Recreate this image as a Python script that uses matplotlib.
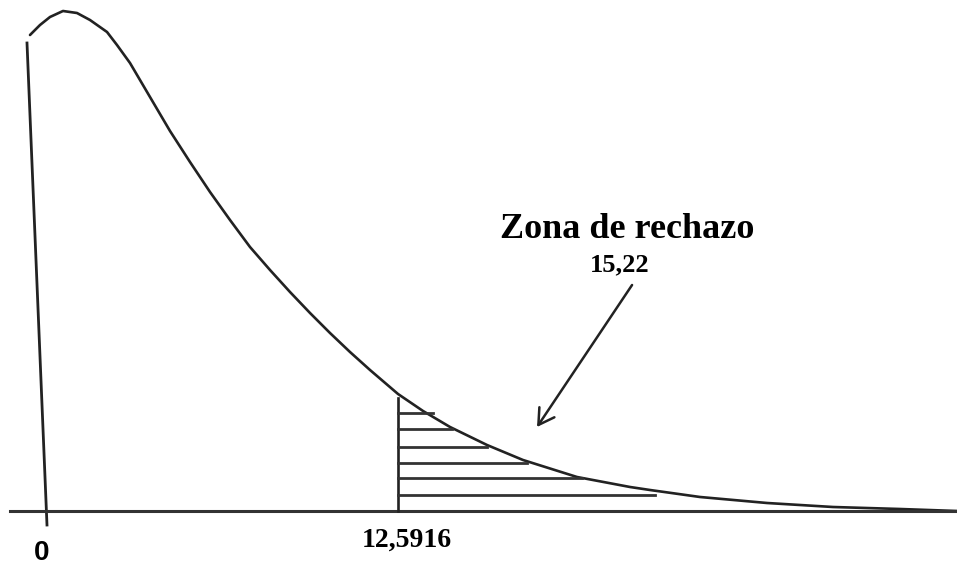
import numpy as np
import matplotlib.pyplot as plt
from matplotlib.patches import FancyArrowPatch

# chi-square sketch, values
crit = 12.5916
stat = 15.22

curve_x = [-0.535, -0.178, 0.178, 0.642, 1.141, 1.605, 2.212, 2.568, 3.032,
           3.745, 4.459, 5.172, 5.886, 6.599, 7.312, 8.026, 8.739, 9.453,
           10.166, 10.879, 11.593, 12.592, 13.484, 14.447, 15.766, 17.050,
           18.977, 20.868, 21.581, 23.364, 25.754, 28.109, 30.499, 32.532]
curve_y = [0.1428, 0.1458, 0.1482, 0.1500, 0.1494, 0.1473, 0.1437, 0.1398, 0.1344,
           0.1242, 0.1140, 0.1047, 0.0957, 0.0873, 0.0792, 0.0723, 0.0657, 0.0594,
           0.0534, 0.0477, 0.0423, 0.0351, 0.0300, 0.0252, 0.0198, 0.0153,
           0.0102, 0.0072, 0.0063, 0.0042, 0.0024, 0.0012, 0.0006, 0.0000]

# left edge stroke of the sketch
left_x = [-0.642, 0.071]
left_y = [0.1404, -0.0042]

# hatch lines of the rejection zone
hatch_y = [0.0294, 0.0246, 0.0192, 0.0144, 0.0099, 0.0048]
hatch_end = [13.840, 14.518, 15.766, 17.193, 19.154, 21.759]
crit_top = 0.0339

axis_x = [-1.248, 32.53]

fig = plt.figure(figsize=(9.57, 5.71), dpi=100)
ax = fig.add_axes([0, 0, 1, 1])
ax.set_xlim(-1.605, 32.53)
ax.set_ylim(-0.018, 0.1533)
ax.axis('off')

ink = '#222222'
ax.plot(curve_x, curve_y, color=ink, lw=1.9, solid_joinstyle='round', solid_capstyle='round')
ax.plot(left_x, left_y, color=ink, lw=2.0)
ax.plot(axis_x, [0, 0], color='#333333', lw=2.2)
ax.plot([crit, crit], [0, crit_top], color=ink, lw=1.9)
for yy, xe in zip(hatch_y, hatch_end):
    ax.plot([crit, xe], [yy, yy], color='#333333', lw=2.0)

arr = FancyArrowPatch((20.94, 0.0678), (17.55, 0.0252), arrowstyle='->,head_length=11,head_width=6.5',
                      color=ink, lw=1.8, shrinkA=0, shrinkB=0)
ax.add_patch(arr)

ax.text(20.76, 0.0845, 'Zona de rechazo', family='Liberation Serif', weight='bold',
        fontsize=26, ha='center', va='center')
ax.text(20.51, 0.0738, str(stat).replace('.', ','), family='Liberation Serif', weight='bold',
        fontsize=19, ha='center', va='center')
ax.text(12.91, -0.0087, str(crit).replace('.', ','), family='Liberation Serif', weight='bold',
        fontsize=20, ha='center', va='center')
ax.text(-0.107, -0.0126, '0', family='Liberation Sans', weight='bold',
        fontsize=20, ha='center', va='center')

fig.savefig('out.png', dpi=100)
